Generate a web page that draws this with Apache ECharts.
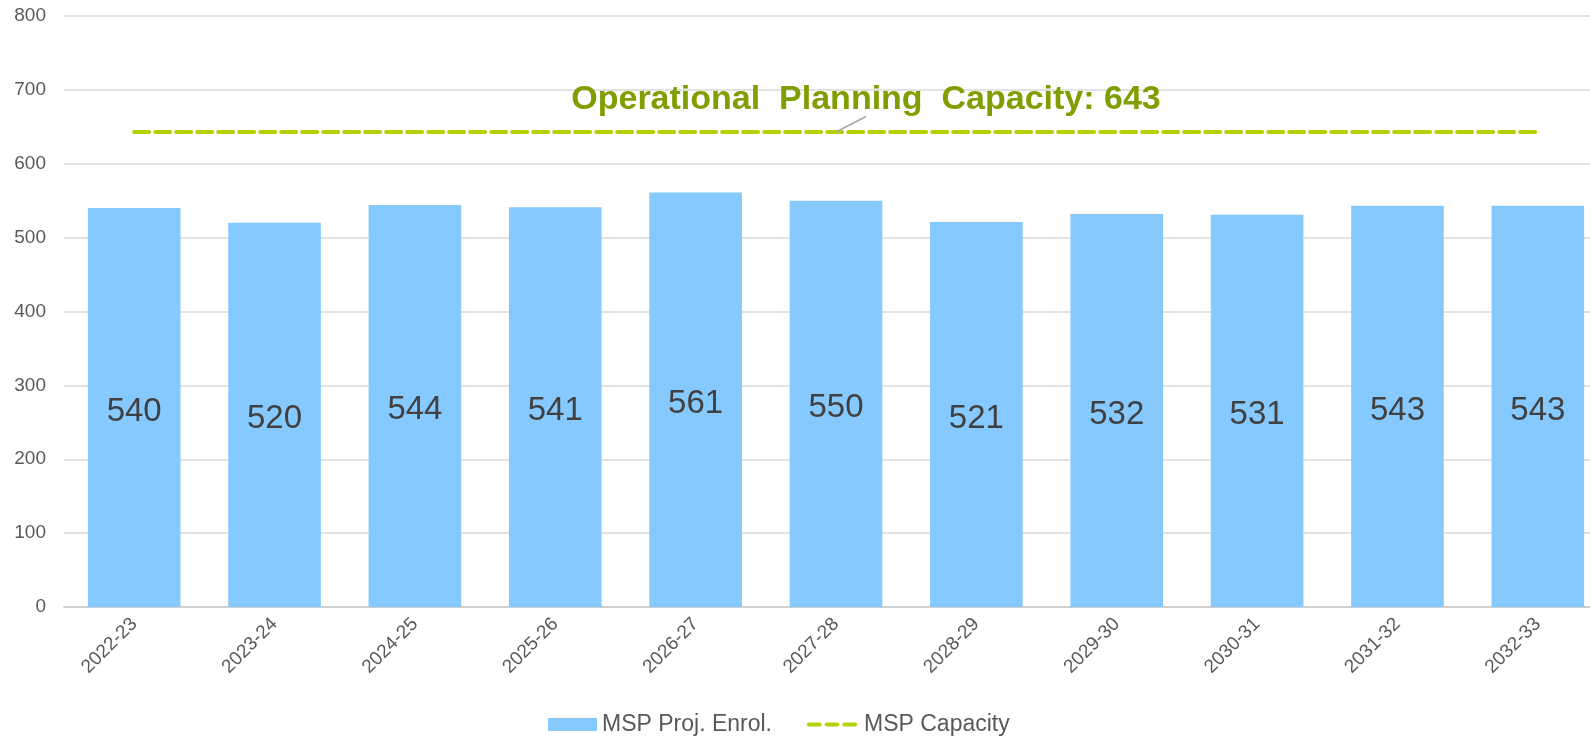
<!DOCTYPE html>
<html>
<head>
<meta charset="utf-8">
<script src="https://cdn.jsdelivr.net/npm/echarts@6/dist/echarts.min.js"></script>
<style>
  html, body { margin: 0; padding: 0; background: #fff; }
  #main { width: 1590px; height: 737px; }
</style>
</head>
<body>
<div id="main"></div>
<script>
// school years
const years = ['2022-23', '2023-24', '2024-25', '2025-26', '2026-27', '2027-28',
  '2028-29', '2029-30', '2030-31', '2031-32', '2032-33'];
// projected enrolment
const enrolment = [540, 520, 544, 541, 561, 550, 521, 532, 531, 543, 543];
// capacity line
const capacity = [643, 643, 643, 643, 643, 643, 643, 643, 643, 643, 643];
const capacityLabelAt = 5;
const capacityText = 'Operational  Planning  Capacity: 643';

const chart = echarts.init(document.getElementById('main'));

// only one point carries the big label (with a tiny symbol so the label exists)
const capData = capacity.map(function (v, i) {
  if (i !== capacityLabelAt) return v;
  return {
    value: v,
    symbol: 'circle',
    symbolSize: 1,
    label: {
      show: true,
      position: 'top',
      formatter: capacityText,
      fontSize: 34,
      fontWeight: 'bold',
      color: '#809e00',
      fontFamily: 'Liberation Sans, Arial, sans-serif'
    },
    labelLine: {
      show: true,
      lineStyle: { color: '#a6a6a6', width: 1.5 }
    }
  };
});

const dashIcon = 'path://M2,0h11a2,2 0 0 1 0,4h-11a2,2 0 0 1 0,-4z' +
  'M20,0h11a2,2 0 0 1 0,4h-11a2,2 0 0 1 0,-4z' +
  'M38,0h11a2,2 0 0 1 0,4h-11a2,2 0 0 1 0,-4z';

const option = {
  animation: false,
  textStyle: { fontFamily: 'Liberation Sans, Arial, sans-serif' },
  grid: { left: 64, top: 16, bottom: 130, width: 1544, outerBoundsMode: 'none' },
  legend: [
    {
      left: 548,
      bottom: 1,
      padding: 0,
      itemWidth: 49,
      itemHeight: 13,
      textStyle: { fontSize: 23, color: '#595959' },
      data: [{ name: 'MSP Proj. Enrol.', icon: 'rect' }]
    },
    {
      left: 807,
      bottom: 1,
      padding: 0,
      itemWidth: 50,
      itemHeight: 4,
      textStyle: { fontSize: 23, color: '#595959', padding: [0, 0, 0, 2] },
      data: [{ name: 'MSP Capacity', icon: dashIcon }]
    }
  ],
  xAxis: {
    type: 'category',
    data: years,
    axisLine: { lineStyle: { color: '#d0d0d0', width: 2 } },
    axisTick: { show: false },
    axisLabel: { rotate: 45, fontSize: 19, color: '#595959', margin: 14 }
  },
  yAxis: {
    type: 'value',
    min: 0,
    max: 800,
    interval: 100,
    axisLine: { show: false },
    axisTick: { show: false },
    axisLabel: { fontSize: 19, color: '#595959', margin: 18 },
    splitLine: { lineStyle: { color: '#d9d9d9', width: 1.5 } }
  },
  series: [
    {
      name: 'MSP Proj. Enrol.',
      type: 'bar',
      data: enrolment,
      barCategoryGap: '34%',
      itemStyle: { color: '#86c9ff' },
      label: {
        show: true,
        position: 'inside',
        offset: [0, 4],
        fontSize: 33,
        color: '#404040'
      }
    },
    {
      name: 'MSP Capacity',
      type: 'line',
      data: capData,
      symbol: 'none',
      lineStyle: { color: '#b5d000', width: 4, type: [15, 6], cap: 'round' },
      itemStyle: { color: '#b5d000' },
      labelLayout: { dx: 30, dy: -10 },
      z: 3
    }
  ]
};

chart.setOption(option);
</script>
</body>
</html>
